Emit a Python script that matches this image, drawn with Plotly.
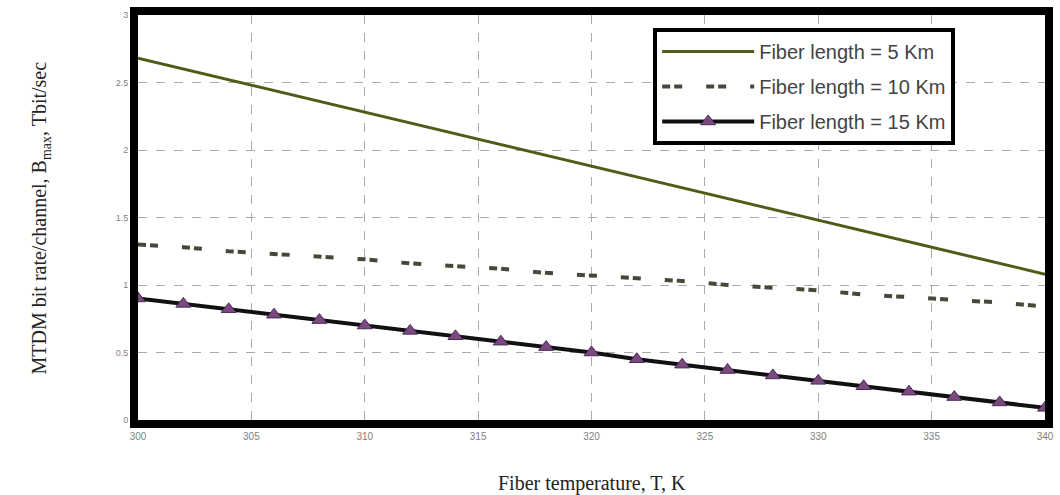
import plotly.graph_objects as go

temperature = [300, 302, 304, 306, 308, 310, 312, 314, 316, 318, 320,
               322, 324, 326, 328, 330, 332, 334, 336, 338, 340]
rate_5km = [2.68, 2.60, 2.52, 2.44, 2.36, 2.28, 2.20, 2.12, 2.04, 1.96, 1.88,
            1.80, 1.72, 1.64, 1.56, 1.48, 1.40, 1.32, 1.24, 1.16, 1.08]
rate_10km = [1.30, 1.28, 1.25, 1.23, 1.21, 1.19, 1.16, 1.14, 1.12, 1.09, 1.07,
             1.05, 1.03, 1.00, 0.98, 0.96, 0.93, 0.91, 0.89, 0.87, 0.84]
rate_15km = [0.90, 0.86, 0.82, 0.78, 0.74, 0.70, 0.66, 0.62, 0.58, 0.54, 0.50,
             0.45, 0.41, 0.37, 0.33, 0.29, 0.25, 0.21, 0.17, 0.13, 0.09]
names = ["Fiber length = 5 Km", "Fiber length = 10 Km", "Fiber length = 15 Km"]
x_ticks = [300, 305, 310, 315, 320, 325, 330, 335, 340]
y_ticks = [0, 0.5, 1, 1.5, 2, 2.5, 3]
y_tick_text = ["0", "0.5", "1", "1.5", "2", "2.5", "3"]
x_title = "Fiber temperature, T, K"
y_title = "MTDM bit rate/channel, B<sub>max</sub>, Tbit/sec"

fig = go.Figure()
fig.add_trace(go.Scatter(x=temperature, y=rate_5km, mode="lines", name=names[0],
                         legendgroup="a",
                         line=dict(color="#4f5c18", width=3)))
fig.add_trace(go.Scatter(x=temperature, y=rate_10km, mode="lines", name=names[1],
                         legendgroup="b",
                         line=dict(color="#48483a", width=4, dash="8px,4px,8px,24px")))
fig.add_trace(go.Scatter(x=temperature, y=rate_15km, mode="lines+markers", name=names[2],
                         legendgroup="c",
                         line=dict(color="#111111", width=4),
                         marker=dict(symbol="triangle-up", size=13, color="#7a4a7e",
                                     line=dict(color="#4a2a5a", width=1))))

axis_common = dict(showline=True, linecolor="black", linewidth=8, mirror=True,
                   showgrid=True, gridcolor="#aaaaaa", griddash="dash", gridwidth=1,
                   zeroline=False, ticks="", automargin=False)

title_font = dict(family="Liberation Serif", size=20, color="#222222")

fig.update_layout(
    width=1060, height=495,
    margin=dict(l=138, r=15, t=15, b=75),
    paper_bgcolor="white", plot_bgcolor="white",
    xaxis=dict(range=[300, 340], tickvals=x_ticks, **axis_common,
               tickfont=dict(family="Arial", size=10, color="#808080")),
    yaxis=dict(range=[0, 3], tickvals=y_ticks, ticktext=y_tick_text, **axis_common,
               tickfont=dict(family="Arial", size=9, color="#808080")),
    legend=dict(x=0.568, y=0.968, xanchor="left", yanchor="top",
                bgcolor="white", bordercolor="black", borderwidth=4,
                font=dict(family="Arial", size=20, color="#444444"),
                itemwidth=92, tracegroupgap=6),
    showlegend=True,
    annotations=[
        dict(text=x_title, xref="paper", yref="paper", x=0.5, y=-0.156,
             xanchor="center", yanchor="middle", showarrow=False, font=title_font),
        dict(text=y_title, xref="paper", yref="paper", x=-0.107, y=0.5,
             xanchor="center", yanchor="middle", textangle=-90, showarrow=False,
             font=title_font),
    ],
)

fig.write_html("out.html")
